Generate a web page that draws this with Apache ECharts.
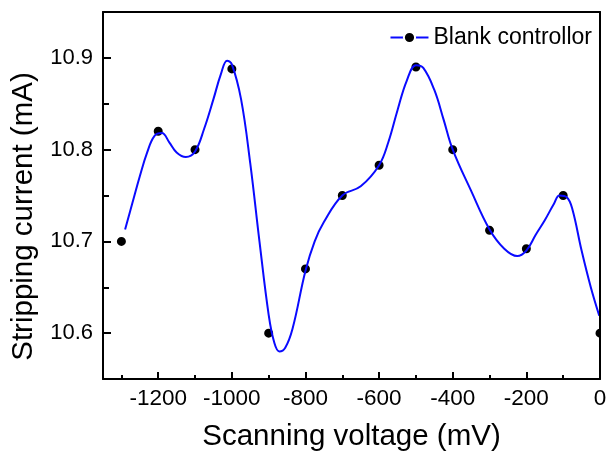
<!DOCTYPE html>
<html>
<head>
<meta charset="utf-8"/>
<title>Blank controllor</title>
<script type="text/javascript" src="https://cdn.jsdelivr.net/npm/echarts@6/dist/echarts.min.js"></script>
<style type="text/css">
	html, body { margin: 0; padding: 0; background: #fff; }
	#chart { width: 607px; height: 455px; }
</style>
</head>
<body>
<div id="chart"></div>
<script type="text/javascript">
	// measured points
	var voltage = [-1300, -1200, -1100, -1000, -900, -800, -700, -600, -500, -400, -300, -200, -100, 0];
	var current = [10.700, 10.820, 10.800, 10.888, 10.600, 10.670, 10.750, 10.783, 10.890, 10.800, 10.712, 10.692, 10.750, 10.600];

	// fitted curve
	var curveX = [-1290, -1270, -1250, -1230, -1210, -1190, -1170, -1150, -1125, -1100, -1075, -1050, -1030, -1013, -1000,
		-975, -950, -925, -900, -885, -871, -855, -835, -800, -775, -750, -700, -650, -600, -575, -550, -525, -500, -480,
		-450, -425, -400, -350, -300, -260, -225, -200, -175, -150, -125, -110, -90, -75, -50, -25, -2];
	var curveY = [10.713, 10.742, 10.771, 10.797, 10.815, 10.818, 10.808, 10.797, 10.792, 10.798, 10.823, 10.855, 10.882, 10.897, 10.893,
		10.855, 10.785, 10.700, 10.620, 10.590, 10.580, 10.584, 10.605, 10.668, 10.700, 10.721, 10.750, 10.760, 10.783, 10.808, 10.843, 10.875, 10.892, 10.889,
		10.865, 10.833, 10.800, 10.755, 10.713, 10.692, 10.684, 10.690, 10.707, 10.723, 10.741, 10.750, 10.748, 10.735, 10.690, 10.650, 10.619];

	var xMajor = [-1200, -1000, -800, -600, -400, -200, 0];
	var xMinor = [-1300, -1100, -900, -700, -500, -300, -100];
	var yMajor = [10.6, 10.7, 10.8, 10.9];
	var yMinor = [10.65, 10.75, 10.85];

	var font = 'Liberation Sans, Arial, sans-serif';

	function pairs(xs, ys) {
		var out = [];
		for (var i = 0; i < xs.length; i++) {
			out.push([xs[i], ys[i]]);
		}
		return out;
	}

	var box = { left: 103, right: 7, top: 12, bottom: 76, outerBoundsMode: 'none' };
	var xBase = { type: 'value', min: -1350, max: 0, splitLine: { show: false } };
	var yBase = { type: 'value', min: 10.55, max: 10.95, splitLine: { show: false } };
	var blackLine = { color: '#000', width: 2 };
	var noLine = { show: false, onZero: false };
	var frameLine = { show: true, onZero: false, lineStyle: blackLine };

	var option = {
		backgroundColor: '#fff',
		animation: false,
		grid: [Object.assign({}, box), Object.assign({}, box)],
		legend: {
			right: 10,
			top: 21,
			itemWidth: 38,
			itemHeight: 14,
			textStyle: { fontFamily: font, fontSize: 23, color: '#000' },
			data: ['Blank controllor']
		},
		xAxis: [
			Object.assign({}, xBase, {
				gridIndex: 0,
				position: 'bottom',
				z: 10,
				name: 'Scanning voltage (mV)',
				nameLocation: 'middle',
				nameGap: 43,
				nameTextStyle: { fontFamily: font, fontSize: 29.5, color: '#000' },
				axisLine: frameLine,
				axisTick: { inside: true, length: 7, customValues: xMajor, lineStyle: blackLine },
				axisLabel: { customValues: xMajor, margin: 8, fontFamily: font, fontSize: 22.5, color: '#000',
					formatter: function (v) { return String(v); } }
			}),
			Object.assign({}, xBase, {
				gridIndex: 0,
				position: 'top',
				z: 10,
				axisLine: frameLine,
				axisTick: { show: false },
				axisLabel: { show: false }
			}),
			Object.assign({}, xBase, {
				gridIndex: 1,
				position: 'bottom',
				z: 10,
				axisLine: noLine,
				axisTick: { inside: true, length: 4, customValues: xMinor, lineStyle: blackLine },
				axisLabel: { show: false, customValues: xMinor }
			})
		],
		yAxis: [
			Object.assign({}, yBase, {
				gridIndex: 0,
				position: 'left',
				z: 10,
				name: 'Stripping current (mA)',
				nameLocation: 'middle',
				nameGap: 64,
				nameTextStyle: { fontFamily: font, fontSize: 29.5, color: '#000', padding: [0, 42, 0, 0] },
				axisLine: frameLine,
				axisTick: { inside: true, length: 8, customValues: yMajor, lineStyle: blackLine },
				axisLabel: { customValues: yMajor, margin: 10, fontFamily: font, fontSize: 22, color: '#000',
					formatter: function (v) { return v.toFixed(1); } }
			}),
			Object.assign({}, yBase, {
				gridIndex: 0,
				position: 'right',
				z: 10,
				axisLine: frameLine,
				axisTick: { show: false },
				axisLabel: { show: false }
			}),
			Object.assign({}, yBase, {
				gridIndex: 1,
				position: 'left',
				z: 10,
				axisLine: noLine,
				axisTick: { inside: true, length: 6, customValues: yMinor, lineStyle: blackLine },
				axisLabel: { show: false, customValues: yMinor }
			})
		],
		graphic: [
			// hides the part of the last marker that falls outside the frame
			{ type: 'rect', left: 601, top: 300, shape: { width: 6, height: 70 }, style: { fill: '#fff' }, z: 50 }
		],
		series: [
			{
				name: 'Blank controllor',
				type: 'line',
				xAxisIndex: 0,
				yAxisIndex: 0,
				smooth: 0.4,
				symbol: 'circle',
				showSymbol: false,
				lineStyle: { color: '#0a0aff', width: 2 },
				itemStyle: { color: '#000', borderColor: '#fff', borderWidth: 3 },
				data: pairs(curveX, curveY)
			},
			{
				name: 'points',
				type: 'scatter',
				xAxisIndex: 0,
				yAxisIndex: 0,
				symbolSize: 12.5,
				itemStyle: { color: '#000', borderColor: '#fff', borderWidth: 3.5, opacity: 1 },
				data: pairs(voltage, current)
			}
		]
	};

	var chart = echarts.init(document.getElementById('chart'));
	chart.setOption(option);
</script>
</body>
</html>
